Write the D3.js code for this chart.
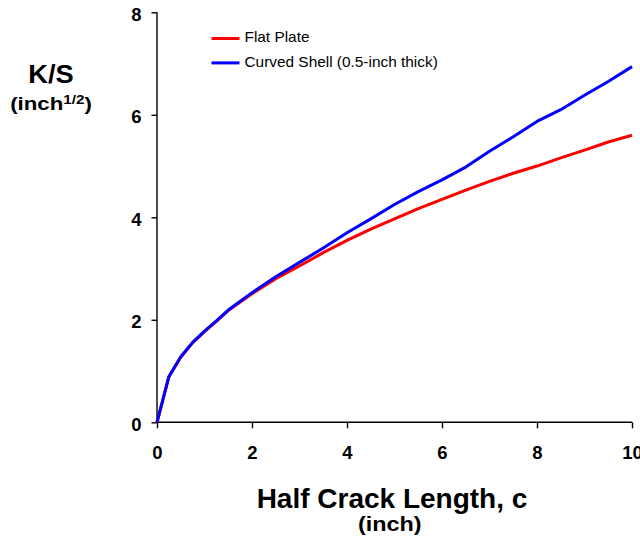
<!DOCTYPE html>
<html>
<head>
<meta charset="utf-8">
<script src="https://cdn.jsdelivr.net/npm/d3@7"></script>
<style>
  body { margin: 0; background: #fff; }
  svg { display: block; font-family: "Liberation Sans", Arial, sans-serif; }
  .axis text { font-size: 18.5px; font-weight: bold; fill: #000; }
  .axis path, .axis line { stroke: #000; stroke-width: 1.4; }
</style>
</head>
<body>
<svg width="640" height="541"></svg>
<script>
var svg = d3.select("svg");

// Half crack length c (inch)
var crackLength = [0, 0.25, 0.5, 0.75, 1, 1.25, 1.5, 2, 2.5, 3, 3.5, 4, 4.5, 5,
    5.5, 6, 6.5, 7, 7.5, 8, 8.5, 9, 9.5, 10];
// K/S (inch^1/2)
var flatPlate = [0, 0.89, 1.27, 1.55, 1.77, 1.97, 2.18, 2.51, 2.80, 3.05, 3.31, 3.55,
    3.77, 3.97, 4.17, 4.35, 4.53, 4.70, 4.86, 5.00, 5.16, 5.31, 5.47, 5.60];
var curvedShell = [0, 0.89, 1.28, 1.56, 1.78, 1.98, 2.19, 2.53, 2.84, 3.12, 3.40, 3.70,
    3.97, 4.25, 4.50, 4.73, 4.98, 5.29, 5.57, 5.87, 6.10, 6.38, 6.65, 6.94];
var xTicks = [0, 2, 4, 6, 8, 10];
var yTicks = [0, 2, 4, 6, 8];

var seriesNames = ["Flat Plate", "Curved Shell (0.5-inch thick)"];
var seriesColors = ["#ff0000", "#0000ff"];
var series = [flatPlate, curvedShell];

var margin = { top: 12.3, left: 157 };
var width = 475, height = 410;

// draw text at (x, y) widened horizontally by k
function wideText(parent, x, y, k) {
    return parent.append("text")
        .attr("transform", "translate(" + x + "," + y + ") scale(" + k + ",1)");
}

var g = svg.append("g")
    .attr("transform", "translate(" + margin.left + "," + margin.top + ")");

var x = d3.scaleLinear().domain([0, 10]).range([0, width]);
var y = d3.scaleLinear().domain([0, 8]).range([height, 0]);

g.append("g")
    .attr("class", "axis")
    .attr("transform", "translate(0," + height + ")")
    .call(d3.axisBottom(x).tickValues(xTicks).tickSize(6).tickPadding(18))
    .call(a => a.selectAll("path").attr("d", "M0,0H" + width));

g.append("g")
    .attr("class", "axis")
    .call(d3.axisLeft(y).tickValues(yTicks).tickSize(5.5).tickPadding(10))
    .call(a => a.selectAll("path").attr("d", "M0," + height + "V0"))
    .call(a => a.selectAll("text").attr("dy", "0.42em"));

var line = d3.line()
    .x((d, i) => x(crackLength[i]))
    .y(d => y(d));

g.selectAll(".series")
    .data(series)
    .enter().append("path")
    .attr("class", "series")
    .attr("fill", "none")
    .attr("stroke", (d, i) => seriesColors[i])
    .attr("stroke-width", 3)
    .attr("stroke-linejoin", "round")
    .attr("d", line);

// Legend
var legend = svg.append("g").attr("transform", "translate(211.5,38.5)");
seriesNames.forEach(function (name, i) {
    var row = legend.append("g").attr("transform", "translate(0," + (i * 24.4) + ")");
    row.append("line")
        .attr("x1", 0).attr("x2", 28)
        .attr("stroke", seriesColors[i])
        .attr("stroke-width", 3);
    wideText(row, 33, 3.6, 1.1)
        .style("font-size", "14px")
        .text(name);
});

// Axis titles
wideText(svg, 51, 83.3, 1.05)
    .attr("text-anchor", "middle")
    .style("font-size", "26px").style("font-weight", "bold")
    .text("K/S");

var yUnit = wideText(svg, 51, 109.5, 1.17)
    .attr("text-anchor", "middle")
    .style("font-size", "19px").style("font-weight", "bold");
yUnit.append("tspan").text("(inch");
yUnit.append("tspan").attr("dy", -5.5).style("font-size", "13px").text("1/2");
yUnit.append("tspan").attr("dy", 5.5).text(")");

svg.append("text")
    .attr("x", 392).attr("y", 508.3)
    .attr("text-anchor", "middle")
    .style("font-size", "28px").style("font-weight", "bold")
    .text("Half Crack Length, c");

wideText(svg, 389.7, 531, 1.17)
    .attr("text-anchor", "middle")
    .style("font-size", "20px").style("font-weight", "bold")
    .text("(inch)");
</script>
</body>
</html>
